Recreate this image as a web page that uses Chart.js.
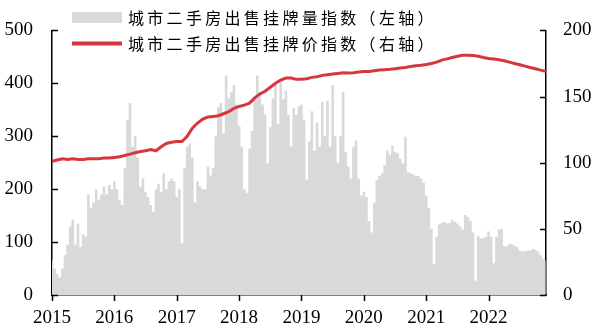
<!DOCTYPE html>
<html>
<head>
<meta charset="utf-8">
<script src="https://cdn.jsdelivr.net/npm/chart.js@4.4.1/dist/chart.umd.min.js"></script>
<style>
html,body{margin:0;padding:0;background:#fff;}
#wrap{width:598px;height:336px;position:relative;}
</style>
</head>
<body>
<div id="wrap"><canvas id="c" width="598" height="336"></canvas></div>
<script>
// ---- data ----
const startYear = 2015;
const yearTicks = [2015, 2016, 2017, 2018, 2019, 2020, 2021, 2022];
const leftTicks = [0, 100, 200, 300, 400, 500];
const rightTicks = [0, 50, 100, 150, 200];
const legendLabels = ['城市二手房出售挂牌量指数（左轴）', '城市二手房出售挂牌价指数（右轴）'];

// listing volume index (left axis), half-monthly from Jan 2015
const volumeIndex = [
  65, 50, 40, 33, 50, 75, 95, 130, 142, 95, 135, 90, 115, 110, 190, 165, 175, 200, 180, 190, 205, 190, 208, 200,
  215, 200, 180, 170, 240, 330, 363, 280, 300, 260, 205, 220, 195, 185, 170, 157, 200, 210, 195, 230, 200, 215, 220, 215,
  185, 200, 98, 240, 280, 286, 260, 175, 215, 205, 200, 200, 243, 226, 240, 300, 355, 363, 305, 415, 372, 383, 397, 360,
  320, 280, 200, 193, 277, 310, 372, 415, 383, 360, 341, 249, 317, 372, 397, 323, 409, 370, 387, 340, 280, 354, 340, 356,
  360, 330, 218, 290, 347, 273, 326, 280, 365, 300, 367, 280, 397, 300, 250, 300, 384, 270, 243, 220, 280, 292, 220, 188,
  195, 185, 140, 118, 175, 218, 225, 230, 245, 273, 265, 282, 270, 268, 258, 249, 299, 232, 230, 228, 225, 225, 220, 212,
  188, 165, 125, 59, 110, 133, 136, 138, 135, 136, 142, 138, 135, 130, 124, 151, 148, 140, 118, 27, 112, 107, 108, 110,
  120, 110, 60, 110, 124, 125, 92, 92, 96, 96, 93, 90, 84, 82, 83, 84, 84, 87, 85, 82, 75, 68, 65
];

// listing price index (right axis), monthly from Jan 2015
const priceIndex = [
  101, 102, 103, 102.5, 103, 102.5, 102.5, 103, 103, 103, 103.5, 103.5,
  104, 104.5, 105.5, 106.5, 107.5, 108.5, 109, 110, 109, 112, 114.5, 115.5,
  116, 116, 120, 126, 130, 133, 134.5, 135, 135.5, 137, 138.5, 141,
  142.5, 143.5, 145, 149, 152, 154, 157, 160, 162.5, 164, 164, 163,
  163, 163.5, 164.5, 165, 166, 166.5, 167, 167.5, 168, 167.8, 168, 168.5,
  169, 169, 169.5, 170, 170.3, 170.6, 171, 171.5, 172, 172.8, 173.2, 173.6,
  174.2, 175, 176, 177.5, 178.5, 179.5, 180.5, 181.2, 181.3, 181, 180.5, 179.5,
  178.8, 178.3, 177.8, 177, 176, 175, 174, 173, 172, 171, 170, 169
];

const volumePoints = volumeIndex.map((v, i) => ({x: startYear + i / 24, y: v}));
const pricePoints = priceIndex.map((v, i) => ({x: startYear + i / 12, y: v}));

const RED = '#D6373D';
const GRAY = '#D9D9D9';
const TICK_FONT = {family: '"Liberation Serif", "Times New Roman", serif', size: 19};

const axisTicksPlugin = {
  id: 'axisTicks',
  afterDraw(chart) {
    const ctx = chart.ctx;
    const a = chart.chartArea;
    const sx = chart.scales.x, s1 = chart.scales.y, s2 = chart.scales.y2;
    ctx.save();
    ctx.strokeStyle = '#000';
    ctx.lineWidth = 1.5;
    ctx.beginPath();
    s1.ticks.forEach(t => { const y = Math.round(s1.getPixelForValue(t.value)) + 0.5; ctx.moveTo(a.left, y); ctx.lineTo(a.left + 6, y); });
    s2.ticks.forEach(t => { const y = Math.round(s2.getPixelForValue(t.value)) + 0.5; ctx.moveTo(a.right, y); ctx.lineTo(a.right - 6, y); });
    sx.ticks.forEach(t => { const x = Math.round(sx.getPixelForValue(t.value)) + 0.5; ctx.moveTo(x, a.bottom); ctx.lineTo(x, a.bottom + 6); });
    ctx.stroke();
    // legend
    const lx = 72, rowY = [17.5, 43.5];
    ctx.fillStyle = GRAY;
    ctx.fillRect(lx, 12, 50, 11);
    ctx.strokeStyle = RED;
    ctx.lineWidth = 4;
    ctx.beginPath();
    ctx.moveTo(lx, rowY[1]); ctx.lineTo(lx + 50, rowY[1]);
    ctx.stroke();
    ctx.fillStyle = '#000';
    ctx.font = '16px "Noto Sans CJK SC", sans-serif';
    ctx.textBaseline = 'middle';
    ctx.textAlign = 'left';
    legendLabels.forEach((txt, r) => {
      let x = 128;
      for (const ch of txt) {
        ctx.fillText(ch, x, rowY[r]);
        x += 19.3;
      }
    });
    ctx.restore();
  }
};

new Chart(document.getElementById('c'), {
  type: 'line',
  data: {
    datasets: [
      {
        label: legendLabels[1],
        data: pricePoints,
        yAxisID: 'y2',
        borderColor: RED,
        borderWidth: 3,
        pointRadius: 0,
        tension: 0,
        fill: false,
        order: 0
      },
      {
        label: legendLabels[0],
        data: volumePoints,
        yAxisID: 'y',
        borderColor: 'rgba(0,0,0,0)',
        borderWidth: 0,
        backgroundColor: GRAY,
        pointRadius: 0,
        stepped: 'middle',
        fill: 'origin',
        order: 1
      }
    ]
  },
  options: {
    responsive: false,
    animation: false,
    layout: {padding: {top: 24, left: 0, right: 0, bottom: 0}},
    plugins: {legend: {display: false}, tooltip: {enabled: false}},
    scales: {
      x: {
        type: 'linear',
        min: 2015,
        max: 2022.92,
        afterBuildTicks: s => { s.ticks = yearTicks.map(v => ({value: v})); },
        afterFit: s => { s.height = 41; },
        grid: {display: false, drawTicks: false},
        border: {display: true, color: '#000', width: 1.5},
        ticks: {color: '#000', font: TICK_FONT, padding: 12, maxRotation: 0, callback: v => String(v)}
      },
      y: {
        position: 'left',
        min: 0, max: 500,
        afterBuildTicks: s => { s.ticks = leftTicks.map(v => ({value: v})); },
        afterFit: s => { s.width = 52; },
        grid: {display: false, drawTicks: false},
        border: {display: true, color: '#000', width: 1.5},
        ticks: {color: '#000', font: TICK_FONT, padding: 19}
      },
      y2: {
        position: 'right',
        min: 0, max: 200,
        afterBuildTicks: s => { s.ticks = rightTicks.map(v => ({value: v})); },
        afterFit: s => { s.width = 52; },
        grid: {display: false, drawTicks: false},
        border: {display: true, color: '#000', width: 1.5},
        ticks: {color: '#000', font: TICK_FONT, padding: 17}
      }
    }
  },
  plugins: [axisTicksPlugin]
});
</script>
</body>
</html>
